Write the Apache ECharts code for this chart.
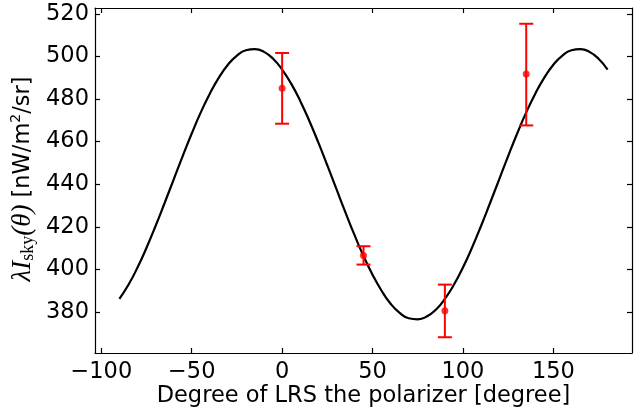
<!DOCTYPE html>
<html>
<head>
<meta charset="utf-8">
<script src="https://cdn.jsdelivr.net/npm/echarts@6/dist/echarts.min.js"></script>
<style>
html,body{margin:0;padding:0;background:#fff;}
#c{width:642px;height:413px;}
</style>
</head>
<body>
<div id="c"></div>
<script>
// Fitted curve
const curveX = [-90,-85,-80,-75,-70,-65,-60,-55,-50,-45,-40,-35,-30,-25,-20,-15,-10,-5,0,5,10,15,20,25,30,35,40,45,50,55,60,65,70,75,80,85,90,95,100,105,110,115,120,125,130,135,140,145,150,155,160,165,170,175,180];
const curveY = [386.2,392.8,400.9,410.2,420.4,431.2,442.2,453.2,463.8,473.7,482.5,490.0,496.1,500.4,502.9,503.4,502.1,498.9,493.8,487.2,479.1,469.8,459.6,448.8,437.8,426.8,416.2,406.3,397.5,390.0,383.9,379.6,377.1,376.6,377.9,381.1,386.2,392.8,400.9,410.2,420.4,431.2,442.2,453.2,463.8,473.7,482.5,490.0,496.1,500.4,502.9,503.4,502.1,498.9,493.8];
// Measurements with error bars
const measX = [0, 45, 90, 135];
const measY = [485.0, 406.6, 380.6, 491.7];
const measLo = [468.4, 402.3, 368.2, 467.6];
const measHi = [501.6, 410.9, 392.9, 515.3];
// Ticks
const xTicks = [-100, -50, 0, 50, 100, 150];
const yTicks = [380, 400, 420, 440, 460, 480, 500, 520];

const chart = echarts.init(document.getElementById('c'), null, {renderer: 'canvas'});
const FONT = 'DejaVu Sans';
const FS = 22.5;
const X_MIN = -103.5, X_MAX = 193.5, Y_MIN = 360.8, Y_MAX = 522.7;

const curveData = curveX.map((x, i) => [x, curveY[i]]);
const errData = measX.map((x, i) => [x, measY[i], measLo[i], measHi[i]]);
const ptData = measX.map((x, i) => [x, measY[i]]);

function baseAxisStyle() {
  return {
    axisLine: {show: true, onZero: false, lineStyle: {color: '#000', width: 1.2}},
    splitLine: {show: false}
  };
}

const option = {
  animation: false,
  backgroundColor: '#fff',
  grid: {left: 95, right: 10, top: 8, bottom: 60, containLabel: false, outerBoundsMode: 'none'},
  graphic: [{
    type: 'text',
    x: 23, y: 179,
    rotation: Math.PI / 2,
    style: {
      text: '{m|\u03BBI}{s|sky}{m|(\u03B8)}{n| [nW/m}{p|2}{n|/sr]}',
      align: 'center', verticalAlign: 'middle',
      fill: '#000',
      rich: {
        m: {fontFamily: 'Liberation Serif', fontStyle: 'italic', fontSize: 27, lineHeight: 28, fill: '#000'},
        s: {fontFamily: 'Liberation Serif', fontSize: 18, verticalAlign: 'bottom', lineHeight: 21, fill: '#000'},
        n: {fontFamily: FONT, fontSize: FS, lineHeight: 28, fill: '#000'},
        p: {fontFamily: FONT, fontSize: 14, verticalAlign: 'top', lineHeight: 18, fill: '#000'}
      }
    }
  }],
  xAxis: [
    Object.assign(baseAxisStyle(), {
      type: 'value', position: 'bottom', min: X_MIN, max: X_MAX,
      axisTick: {show: true, inside: true, length: 5, lineStyle: {color: '#000', width: 1.2}, customValues: xTicks},
      axisLabel: {show: true, customValues: xTicks, margin: 8, color: '#000', fontFamily: FONT, fontSize: FS,
        formatter: v => String(v).replace('-', '\u2212')},
      name: 'Degree of LRS the polarizer [degree]',
      nameLocation: 'middle', nameGap: 32, nameMoveOverlap: false,
      nameTextStyle: {color: '#000', fontFamily: FONT, fontSize: FS}
    }),
    Object.assign(baseAxisStyle(), {
      type: 'value', position: 'top', min: X_MIN, max: X_MAX,
      axisTick: {show: true, inside: true, length: 5, lineStyle: {color: '#000', width: 1.2}, customValues: xTicks},
      axisLabel: {show: false}
    })
  ],
  yAxis: [
    Object.assign(baseAxisStyle(), {
      type: 'value', position: 'left', min: Y_MIN, max: Y_MAX,
      axisTick: {show: true, inside: true, length: 5, lineStyle: {color: '#000', width: 1.2}, customValues: yTicks},
      axisLabel: {show: true, customValues: yTicks, margin: 6, color: '#000', fontFamily: FONT, fontSize: FS}
    }),
    Object.assign(baseAxisStyle(), {
      type: 'value', position: 'right', min: Y_MIN, max: Y_MAX,
      axisTick: {show: true, inside: true, length: 5, lineStyle: {color: '#000', width: 1.2}, customValues: yTicks},
      axisLabel: {show: false}
    })
  ],
  series: [
    {
      type: 'line', xAxisIndex: 0, yAxisIndex: 0,
      data: curveData, smooth: true, showSymbol: false, symbol: 'none',
      lineStyle: {color: '#000', width: 2.2}, z: 2
    },
    {
      type: 'custom', xAxisIndex: 0, yAxisIndex: 0, z: 3,
      data: errData,
      encode: {x: 0, y: [1, 2, 3]},
      renderItem: function (params, api) {
        const x = api.value(0);
        const lo = api.coord([x, api.value(2)]);
        const hi = api.coord([x, api.value(3)]);
        const cap = 7;
        const st = {stroke: '#ff0000', lineWidth: 2};
        return {
          type: 'group',
          children: [
            {type: 'line', shape: {x1: lo[0], y1: lo[1], x2: hi[0], y2: hi[1]}, style: st},
            {type: 'line', shape: {x1: lo[0] - cap, y1: lo[1], x2: lo[0] + cap, y2: lo[1]}, style: st},
            {type: 'line', shape: {x1: hi[0] - cap, y1: hi[1], x2: hi[0] + cap, y2: hi[1]}, style: st}
          ]
        };
      }
    },
    {
      type: 'scatter', xAxisIndex: 0, yAxisIndex: 0, z: 4,
      data: ptData, symbol: 'circle', symbolSize: 7,
      itemStyle: {color: '#ff0000'}
    }
  ]
};
chart.setOption(option);
</script>
</body>
</html>
